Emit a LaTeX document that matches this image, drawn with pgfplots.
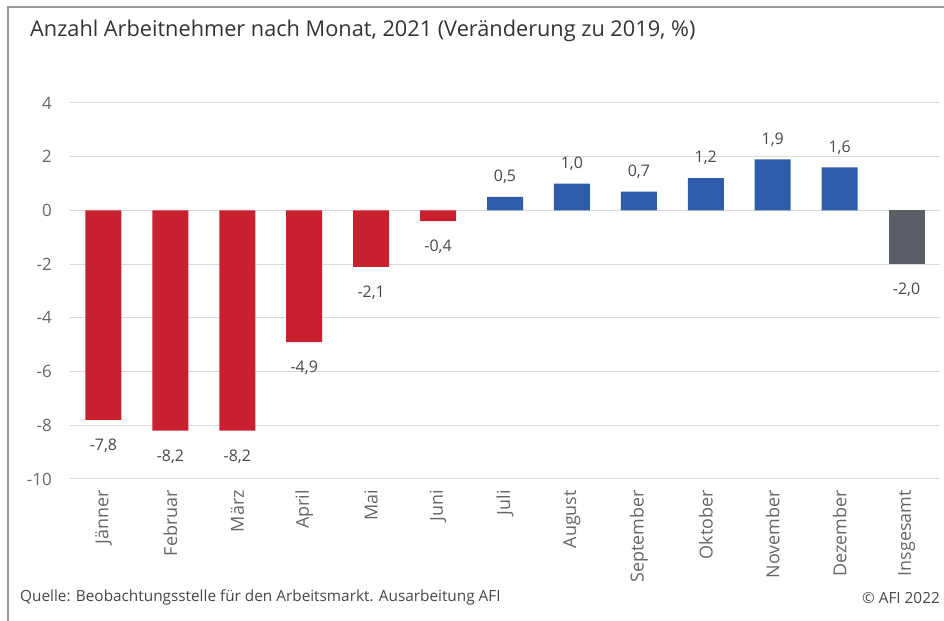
\documentclass[border=0pt]{standalone}
\usepackage{fontspec}
\setmainfont{Open Sans}
\usepackage{pgfplots}
\pgfplotsset{compat=1.18}
\definecolor{afired}{HTML}{C8202F}
\definecolor{afiblue}{HTML}{2F5CAA}
\definecolor{afigray}{HTML}{5A5F66}
\definecolor{txt}{HTML}{333333}
\definecolor{grid}{HTML}{D9D9D9}
\begin{document}
\begin{tikzpicture}[x=1bp,y=1bp]
\useasboundingbox (0,0) rectangle (944,621);
\draw[color=gray!80, line width=1.5bp] (8,0) -- (8,614) -- (944,614);
\node[anchor=base west, text=txt, font=\fontsize{21.8}{25}\selectfont, inner sep=0pt] at (30,584) {Anzahl Arbeitnehmer nach Monat, 2021 (Veränderung zu 2019, \%)};
\node[anchor=base west, text=txt!90, font=\fontsize{15.4}{18}\selectfont, inner sep=0pt] at (20,19) {Quelle: Beobachtungsstelle für den Arbeitsmarkt. Ausarbeitung AFI};
\node[anchor=base east, text=txt!90, font=\fontsize{15.4}{18}\selectfont, inner sep=0pt] at (940,17) {© AFI 2022};
\begin{axis}[
  at={(70bp,142bp)}, anchor=south west,
  width=870bp, height=376bp, scale only axis,
  xmin=-0.5, xmax=12.5, ymin=-10, ymax=4,
  ytick={-10,-8,...,4},
  xtick={0,...,12},
  xticklabels={Jänner,Februar,März,April,Mai,Juni,Juli,August,September,Oktober,November,Dezember,Insgesamt},
  x tick label style={rotate=90, anchor=east, font=\fontsize{18}{21}\selectfont, text=txt!75, inner sep=0pt},
  xticklabel shift=11bp,
  y tick label style={font=\fontsize{17}{20}\selectfont, text=txt!75, anchor=east, inner sep=0pt},
  yticklabel shift=18bp,
  /pgf/number format/assume math mode=true,
  ymajorgrids, grid style={color=grid, line width=1bp},
  axis line style={draw=none},
  major tick length=0pt,
  clip=false,
  ybar, bar width=36bp,
  every axis plot/.append style={draw=none, bar shift=0pt},
  nodes near coords={\pgfmathprintnumber[fixed,fixed zerofill,precision=1,use comma,assume math mode=true]{\pgfplotspointmeta}},
  every node near coord/.append style={font=\fontsize{16}{19}\selectfont, text=txt!90, inner sep=0pt},
]
\addplot[fill=afired, every node near coord/.append style={anchor=north, yshift=-19bp}] coordinates {(0,-7.8) (1,-8.2) (2,-8.2) (3,-4.9) (4,-2.1) (5,-0.4)};
\addplot[fill=afiblue, every node near coord/.append style={anchor=south, yshift=13bp}] coordinates {(6,0.5) (7,1.0) (8,0.7) (9,1.2) (10,1.9) (11,1.6)};
\addplot[fill=afigray, every node near coord/.append style={anchor=north, yshift=-19bp}] coordinates {(12,-2.0)};
\end{axis}
\end{tikzpicture}
\end{document}
